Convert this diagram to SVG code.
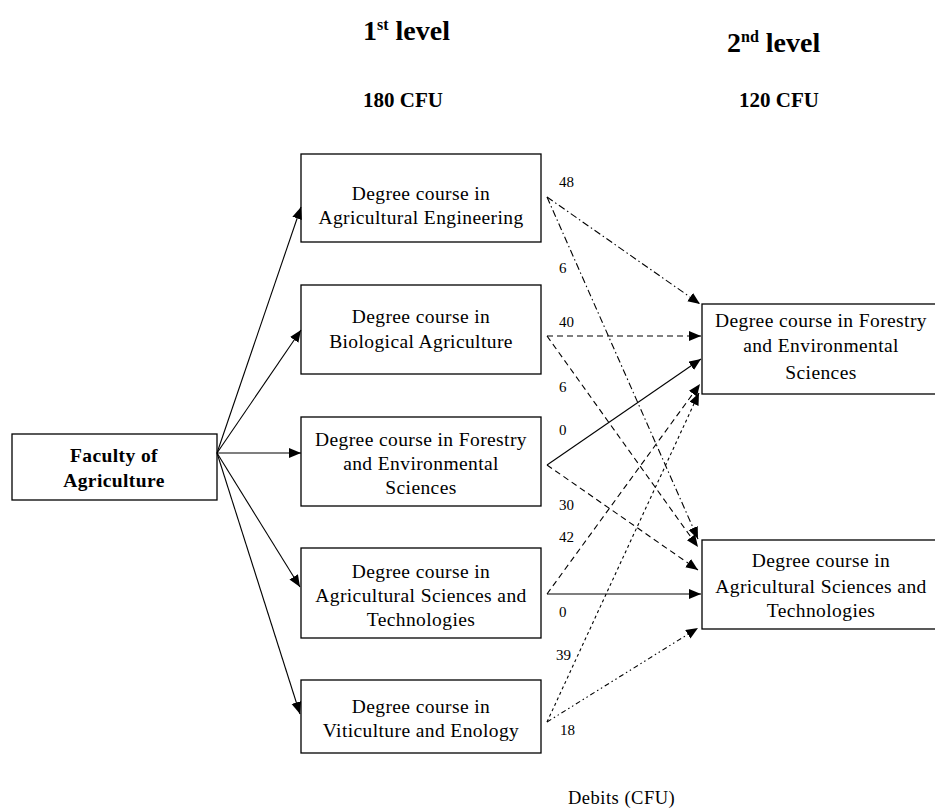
<svg xmlns="http://www.w3.org/2000/svg" width="935" height="809" viewBox="0 0 935 809" font-family="'Liberation Serif', 'DejaVu Serif', 'Times New Roman', serif">
<style>
text{font-family:'Liberation Serif','DejaVu Serif','Times New Roman',serif;fill:#000}
.box{fill:#fff;stroke:#000;stroke-width:1.3}
.t{font-size:19.5px;text-anchor:middle;letter-spacing:0.4px}
.h{font-size:28px;font-weight:bold}
.c{font-size:21px;font-weight:bold}
.n{font-size:15px}
.ln{fill:none;stroke:#000;stroke-width:1.1}
.dd{stroke-dasharray:7,3,1.5,3}
.da{stroke-dasharray:6,4}
.dt{stroke-dasharray:3,3}
.ddd{stroke-dasharray:5,3,1.5,3,1.5,3}
</style>
<defs>
<marker id="ar" markerUnits="userSpaceOnUse" markerWidth="13" markerHeight="11" refX="12" refY="5" orient="auto">
<path d="M0,0 L12,5 L0,10 z" fill="#000"/>
</marker>
</defs>
<g id="headers">
<text class="h" x="363" y="40">1<tspan font-size="16" dy="-10">st</tspan><tspan dy="10"> level</tspan></text>
<text class="h" x="727" y="52">2<tspan font-size="16" dy="-10">nd</tspan><tspan dy="10"> level</tspan></text>
<text class="c" x="363" y="107">180 CFU</text>
<text class="c" x="739" y="107">120 CFU</text>
</g>
<g id="faculty">
<rect class="box" x="12" y="434" width="205" height="66"/>
<text class="t" x="114" y="462" font-weight="bold">Faculty of</text>
<text class="t" x="114" y="487" font-weight="bold">Agriculture</text>
</g>
<g id="l1-eng">
<rect class="box" x="301" y="154" width="240" height="88"/>
<text class="t" x="421" y="200">Degree course in</text>
<text class="t" x="421" y="224">Agricultural Engineering</text>
</g>
<g id="l1-bio">
<rect class="box" x="301" y="285" width="240" height="89"/>
<text class="t" x="421" y="323">Degree course in</text>
<text class="t" x="421" y="348">Biological Agriculture</text>
</g>
<g id="l1-for">
<rect class="box" x="301" y="417" width="240" height="89"/>
<text class="t" x="421" y="446">Degree course in Forestry</text>
<text class="t" x="421" y="470">and Environmental</text>
<text class="t" x="421" y="494">Sciences</text>
</g>
<g id="l1-agr">
<rect class="box" x="301" y="548" width="240" height="90"/>
<text class="t" x="421" y="578">Degree course in</text>
<text class="t" x="421" y="602">Agricultural Sciences and</text>
<text class="t" x="421" y="626">Technologies</text>
</g>
<g id="l1-vit">
<rect class="box" x="301" y="680" width="240" height="73"/>
<text class="t" x="421" y="713">Degree course in</text>
<text class="t" x="421" y="737">Viticulture and Enology</text>
</g>
<g id="l2-for">
<rect class="box" x="702" y="304" width="240" height="90"/>
<text class="t" x="821" y="327">Degree course in Forestry</text>
<text class="t" x="821" y="352">and Environmental</text>
<text class="t" x="821" y="379">Sciences</text>
</g>
<g id="l2-agr">
<rect class="box" x="702" y="540" width="240" height="89"/>
<text class="t" x="821" y="567">Degree course in</text>
<text class="t" x="821" y="593">Agricultural Sciences and</text>
<text class="t" x="821" y="617">Technologies</text>
</g>
<g id="connectors">
<line class="ln" x1="217" y1="453" x2="301" y2="207" marker-end="url(#ar)"/>
<line class="ln" x1="217" y1="453" x2="301" y2="330" marker-end="url(#ar)"/>
<line class="ln" x1="217" y1="453" x2="301" y2="453" marker-end="url(#ar)"/>
<line class="ln" x1="217" y1="453" x2="300" y2="587" marker-end="url(#ar)"/>
<line class="ln" x1="217" y1="453" x2="300" y2="714" marker-end="url(#ar)"/>
<line class="ln dd" x1="547" y1="197" x2="700" y2="304" marker-end="url(#ar)"/>
<line class="ln dd" x1="547" y1="197" x2="698" y2="539" marker-end="url(#ar)"/>
<line class="ln da" x1="547" y1="336" x2="701" y2="336" marker-end="url(#ar)"/>
<line class="ln da" x1="547" y1="336" x2="698" y2="547" marker-end="url(#ar)"/>
<line class="ln" x1="547" y1="465" x2="701" y2="359" marker-end="url(#ar)"/>
<line class="ln da" x1="547" y1="465" x2="698" y2="570" marker-end="url(#ar)"/>
<line class="ln da" x1="547" y1="594" x2="700" y2="384" marker-end="url(#ar)"/>
<line class="ln" x1="547" y1="594" x2="701" y2="594" marker-end="url(#ar)"/>
<line class="ln dt" x1="547" y1="722" x2="699" y2="393" marker-end="url(#ar)"/>
<line class="ln ddd" x1="547" y1="722" x2="698" y2="628" marker-end="url(#ar)"/>
</g>
<g id="labels">
<text class="n" x="559" y="187">48</text>
<text class="n" x="559" y="273">6</text>
<text class="n" x="559" y="327">40</text>
<text class="n" x="559" y="392">6</text>
<text class="n" x="559" y="435">0</text>
<text class="n" x="559" y="510">30</text>
<text class="n" x="559" y="542">42</text>
<text class="n" x="559" y="617">0</text>
<text class="n" x="556" y="660">39</text>
<text class="n" x="560" y="735">18</text>
<text x="568" y="804" font-size="18.5" letter-spacing="0.5">Debits (CFU)</text>
</g>
</svg>
